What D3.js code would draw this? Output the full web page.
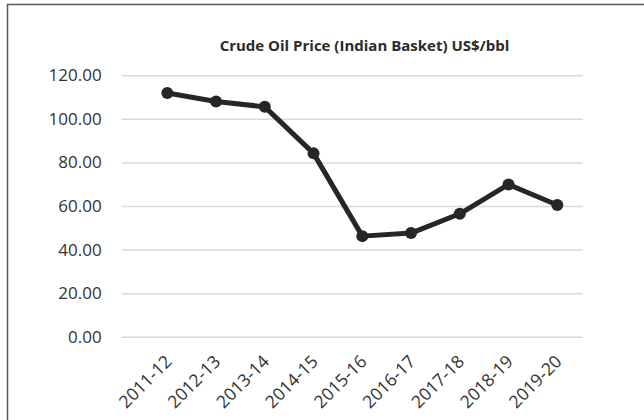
<!DOCTYPE html>
<html>
<head>
<meta charset="utf-8">
<script src="https://cdn.jsdelivr.net/npm/d3@7"></script>
<style>
	html, body { margin: 0; padding: 0; background: #fff; }
	svg { display: block; }
	.tick-label { font-family: "Open Sans", sans-serif; font-size: 17px; fill: #333; }
	.x-label { font-size: 17.5px; }
	.chart-title { font-family: "Open Sans", sans-serif; font-size: 15px; font-weight: bold; fill: #2b2b2b; }
</style>
</head>
<body>
<svg id="chart" width="644" height="420"></svg>
<script>
	const years = ["2011-12", "2012-13", "2013-14", "2014-15", "2015-16", "2016-17", "2017-18", "2018-19", "2019-20"];
	const prices = [111.89, 107.97, 105.52, 84.16, 46.17, 47.56, 56.43, 69.88, 60.47];
	const yTicks = [0, 20, 40, 60, 80, 100, 120];
	const title = "Crude Oil Price (Indian Basket) US$/bbl";

	const svg = d3.select("#chart");
	const width = 644;
	const height = 420;

	// outer chart frame (cropped on right and bottom)
	svg.append("rect")
		.attr("x", 7.5)
		.attr("y", 4.5)
		.attr("width", width)
		.attr("height", height)
		.attr("fill", "#fff")
		.attr("stroke", "#595959")
		.attr("stroke-width", 1.5);

	const plot = { left: 121.7, right: 582.7 };

	const x = d3.scalePoint()
		.domain(years)
		.range([167.3, 557.3]);

	const y = d3.scaleLinear()
		.domain([0, 120])
		.range([336.7, 75.3]);

	// gridlines + y labels
	const yAxis = svg.append("g")
		.attr("transform", `translate(${plot.left},0)`)
		.call(d3.axisLeft(y).tickValues(yTicks).tickSize(-(plot.right - plot.left)).tickPadding(20).tickFormat(d3.format(".2f")));
	yAxis.select(".domain").remove();
	yAxis.selectAll(".tick line").attr("stroke", "#d9d9d9").attr("stroke-width", 1.5);
	yAxis.selectAll(".tick text")
		.attr("class", "tick-label")
		.attr("font-family", null)
		.attr("font-size", null)
		.attr("fill", null);

	// x labels
	const xAxis = svg.append("g")
		.attr("transform", `translate(0,${y(0)})`)
		.call(d3.axisBottom(x).tickSize(0));
	xAxis.select(".domain").remove();
	xAxis.selectAll(".tick text")
		.attr("class", "tick-label x-label")
		.attr("font-family", null)
		.attr("font-size", null)
		.attr("fill", null)
		.attr("text-anchor", "end")
		.attr("dy", null)
		.attr("y", 0)
		.attr("transform", "translate(5,26) rotate(-45)");

	// title
	svg.append("text")
		.attr("class", "chart-title")
		.attr("x", 364.5)
		.attr("y", 51)
		.attr("text-anchor", "middle")
		.text(title);

	const data = years.map((year, i) => ({ year, value: prices[i] }));

	svg.append("path")
		.datum(data)
		.attr("fill", "none")
		.attr("stroke", "#262626")
		.attr("stroke-width", 5)
		.attr("stroke-linejoin", "round")
		.attr("d", d3.line().x((d) => x(d.year)).y((d) => y(d.value)));

	svg.append("g")
		.selectAll("circle")
		.data(data)
		.join("circle")
		.attr("cx", (d) => x(d.year))
		.attr("cy", (d) => y(d.value))
		.attr("r", 6)
		.attr("fill", "#262626");
</script>
</body>
</html>
